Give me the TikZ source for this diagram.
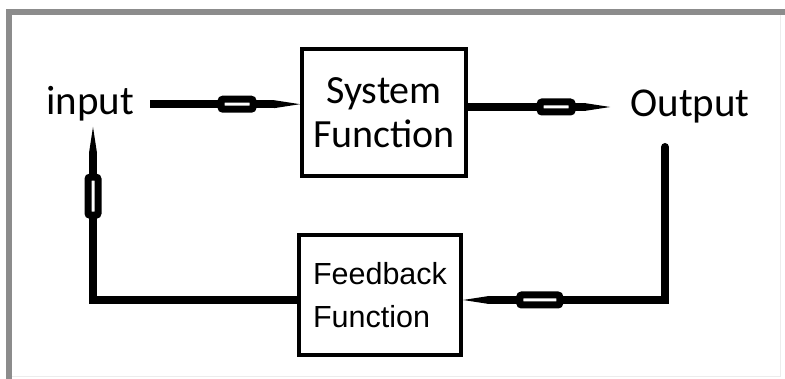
\documentclass[tikz,border=0pt]{standalone}
\usepackage{fontspec}
\usepackage{tikz}
\usetikzlibrary{arrows.meta}
\newfontfamily\calibri{Carlito}
\newfontfamily\arial{Liberation Sans}

\tikzset{
  block/.style={draw, line width=4pt, inner sep=0pt},
  label/.style={inner sep=0pt, font=\calibri\fontsize{41}{44}\selectfont},
  wire/.style={line width=8pt, -{Triangle[length=26pt,width=8pt,line width=0pt]}},
  slot/.style={draw, line width=7pt, fill=white, rounded corners=2pt,
    minimum width=32pt, minimum height=10pt, inner sep=0pt, sloped}
}

\begin{document}
\begin{tikzpicture}[x=1pt,y=1pt]
\useasboundingbox (0,0) rectangle (785,379);
% frame
\draw[gray!15, line width=1pt] (780,367) -- (780,2) -- (9,2);
\draw[gray!90, line width=6pt] (785,367) -- (9,367) -- (9,0);
% blocks
\node[block, minimum width=164pt, minimum height=127pt, align=center,
  font=\calibri\fontsize{40}{44}\selectfont] (sys) at (384,266.5) {System\\Function};
\node[block, minimum width=162pt, minimum height=120pt, align=left,
  font=\arial\fontsize{30.5}{43}\selectfont] (fb) at (380,84) {Feedback\\Function};
\node[label, anchor=base] (in) at (90,264) {input};
\node[label, anchor=base] (out) at (690,262) {Output};
\coordinate (rt) at (665,232);  % top of the return line
\coordinate (lt) at (93,252);   % end under input
% forward path
\draw[wire] ([xshift=16pt]in.east) -- node[slot, pos=0.58]{} (in.east -| sys.west);
\draw[wire] (sys.east |- out.west) -- node[slot, pos=0.62]{} ([xshift=-20pt]out.west);
% feedback path
\draw[wire, line cap=round] (rt) |- node[slot, minimum width=40pt, pos=0.81]{} ([yshift=-5pt]fb.east);
\draw[wire] ([yshift=-5pt]fb.west) -| node[slot, minimum width=38pt, pos=0.8]{} (lt);
\end{tikzpicture}
\end{document}
